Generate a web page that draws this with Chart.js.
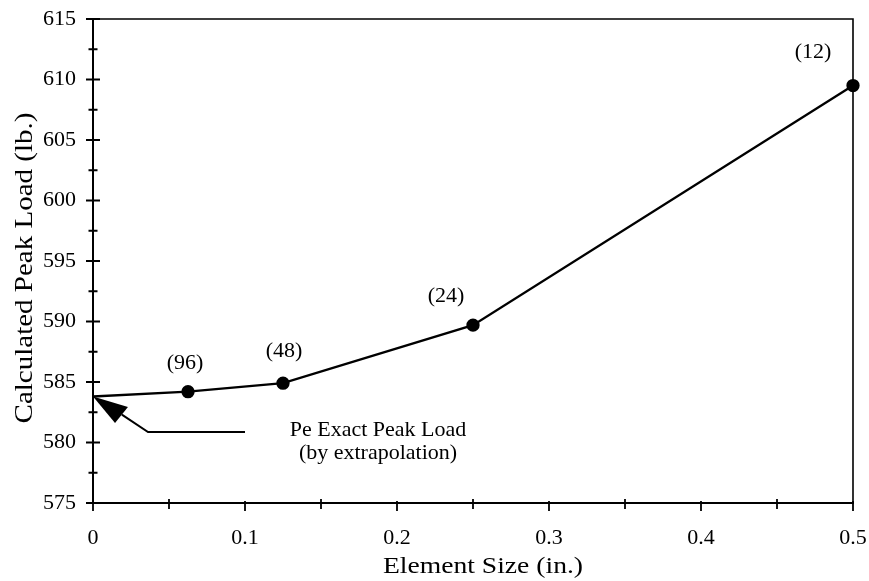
<!DOCTYPE html>
<html>
<head>
<meta charset="utf-8">
<script src="https://cdn.jsdelivr.net/npm/chart.js@4"></script>
<style>
  html, body { margin: 0; padding: 0; background: #fff; }
  #wrap { width: 869px; height: 581px; }
</style>
</head>
<body>
<div id="wrap"><canvas id="c" width="869" height="581"></canvas></div>
<script>
// ---- data ----
const elementSize = [0, 0.0625, 0.125, 0.25, 0.5];          // in.
const peakLoad    = [583.8, 584.2, 584.9, 589.7, 609.5];      // lb.
const meshLabels  = ['', '(96)', '(48)', '(24)', '(12)'];
const xTickValues = [0, 0.1, 0.2, 0.3, 0.4, 0.5];
const yTickValues = [575, 580, 585, 590, 595, 600, 605, 610, 615];
const xTitle = 'Element Size (in.)';
const yTitle = 'Calculated Peak Load (lb.)';
const noteLines = ['Pe Exact Peak Load', '(by extrapolation)'];
const noteAnchorX = [0.1875, 0.1875];
const noteAnchorY = [581.0, 579.1];
const arrowHeadX = [0, 0.023, 0.0145];
const arrowHeadY = [583.8, 582.93, 581.61];
const arrowShaftX = [0.019, 0.0362, 0.1];
const arrowShaftY = [582.3, 580.87, 580.87];

// ---- style ----
const SERIF = "'Liberation Serif', 'Times New Roman', serif";
const labelOffsets = [[0, 0], [-3, -28], [1, -32], [-27, -29], [-40, -33]];

function zeroPad(s) { s.paddingLeft = 0; s.paddingRight = 0; s.paddingTop = 0; s.paddingBottom = 0; }

const decor = {
  id: 'decor',
  afterDraw(chart) {
    const ctx = chart.ctx;
    const xs = chart.scales.x, ys = chart.scales.y;
    const ca = chart.chartArea;
    ctx.save();
    ctx.strokeStyle = '#000';
    ctx.fillStyle = '#000';
    // frame top and right
    ctx.lineWidth = 1.6;
    ctx.beginPath();
    ctx.moveTo(ca.left, ca.top);
    ctx.lineTo(ca.right, ca.top);
    ctx.lineTo(ca.right, ca.bottom);
    ctx.stroke();
    // ticks crossing axes
    ctx.lineWidth = 1.8;
    ctx.beginPath();
    for (let v = 575; v <= 615.001; v += 2.5) {
      const py = ys.getPixelForValue(v);
      const major = Math.abs((v - 575) % 5) < 1e-6;
      const h = major ? 7 : 4.5;
      ctx.moveTo(ca.left - h, py);
      ctx.lineTo(ca.left + h, py);
    }
    for (let v = 0; v <= 0.5001; v += 0.05) {
      const px = xs.getPixelForValue(v);
      const major = Math.abs(Math.round(v * 20) % 2) === 0;
      const h = major ? 8 : 6;
      ctx.moveTo(px, ca.bottom - (major ? 2 : 4));
      ctx.lineTo(px, ca.bottom + h);
    }
    ctx.stroke();
    // arrow
    ctx.beginPath();
    ctx.moveTo(xs.getPixelForValue(arrowHeadX[0]), ys.getPixelForValue(arrowHeadY[0]));
    for (let i = 1; i < arrowHeadX.length; i++) {
      ctx.lineTo(xs.getPixelForValue(arrowHeadX[i]), ys.getPixelForValue(arrowHeadY[i]));
    }
    ctx.closePath();
    ctx.fill();
    ctx.lineWidth = 2;
    ctx.beginPath();
    ctx.moveTo(xs.getPixelForValue(arrowShaftX[0]), ys.getPixelForValue(arrowShaftY[0]));
    for (let i = 1; i < arrowShaftX.length; i++) {
      ctx.lineTo(xs.getPixelForValue(arrowShaftX[i]), ys.getPixelForValue(arrowShaftY[i]));
    }
    ctx.stroke();
    // mesh labels
    ctx.font = '22px ' + SERIF;
    ctx.textAlign = 'center';
    ctx.textBaseline = 'middle';
    const meta = chart.getDatasetMeta(0);
    meshLabels.forEach((t, i) => {
      if (!t) return;
      const p = meta.data[i];
      ctx.fillText(t, p.x + labelOffsets[i][0], p.y + labelOffsets[i][1]);
    });
    // note
    noteLines.forEach((t, i) => {
      ctx.fillText(t, xs.getPixelForValue(noteAnchorX[i]), ys.getPixelForValue(noteAnchorY[i]));
    });
    // axis titles (slightly widened serif, as in the scanned original)
    ctx.save();
    ctx.translate((ca.left + ca.right) / 2 + 10, 567);
    ctx.scale(1.2, 1);
    ctx.font = '23px ' + SERIF;
    ctx.fillText(xTitle, 0, 0);
    ctx.restore();
    ctx.save();
    ctx.translate(25, (ca.top + ca.bottom) / 2 + 7);
    ctx.rotate(-Math.PI / 2);
    ctx.scale(1.16, 1);
    ctx.font = '25px ' + SERIF;
    ctx.fillText(yTitle, 0, 0);
    ctx.restore();
    ctx.restore();
  }
};

new Chart(document.getElementById('c'), {
  type: 'line',
  data: {
    datasets: [{
      data: elementSize.map((x, i) => ({ x, y: peakLoad[i] })),
      borderColor: '#000',
      borderWidth: 2.3,
      backgroundColor: '#000',
      pointBackgroundColor: '#000',
      pointBorderColor: '#000',
      pointRadius: ctx => meshLabels[ctx.dataIndex] ? 5.5 : 0,
      pointHoverRadius: 5.5,
      tension: 0,
      fill: false,
      clip: false
    }]
  },
  options: {
    responsive: false,
    devicePixelRatio: 1,
    animation: false,
    events: [],
    layout: { padding: { left: 0, right: 16, top: 19, bottom: 0 } },
    plugins: { legend: { display: false }, tooltip: { enabled: false }, title: { display: false } },
    scales: {
      x: {
        type: 'linear',
        min: 0, max: 0.5,
        afterFit(s) { s.height = 78; zeroPad(s); },
        afterBuildTicks(s) { s.ticks = xTickValues.map(v => ({ value: v })); },
        grid: { display: false, drawTicks: false, tickLength: 0 },
        border: { display: true, color: '#000', width: 2 },
        ticks: {
          color: '#000',
          font: { family: SERIF, size: 22 },
          padding: 22,
          maxRotation: 0,
          callback: v => String(Number(v.toFixed(2)))
        }
      },
      y: {
        type: 'linear',
        min: 575, max: 615,
        afterFit(s) { s.width = 93; zeroPad(s); },
        afterBuildTicks(s) { s.ticks = yTickValues.map(v => ({ value: v })); },
        grid: { display: false, drawTicks: false, tickLength: 0 },
        border: { display: true, color: '#000', width: 2 },
        ticks: {
          color: '#000',
          font: { family: SERIF, size: 22 },
          padding: 17,
          callback: v => String(v)
        }
      }
    }
  },
  plugins: [decor]
});
</script>
</body>
</html>
